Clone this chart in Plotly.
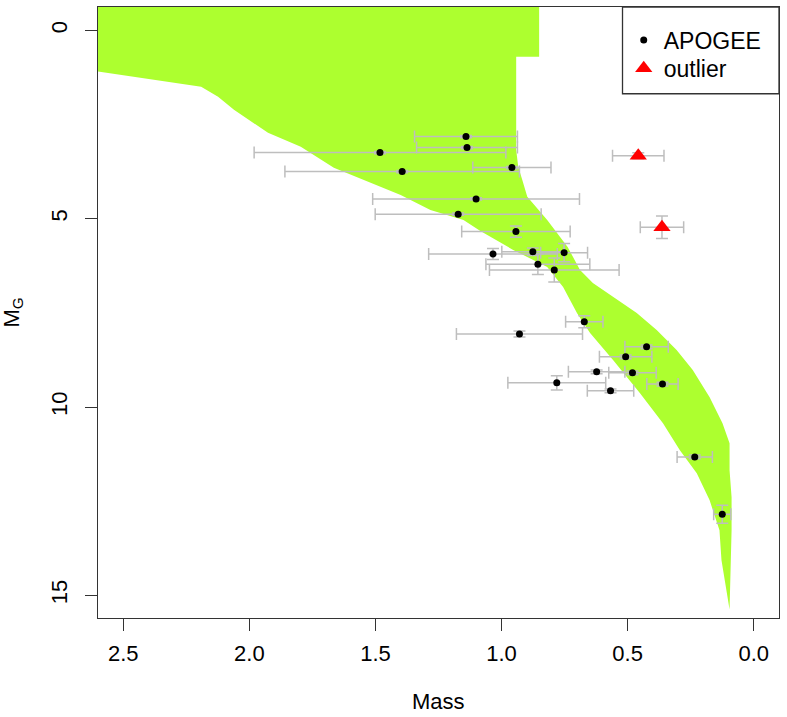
import plotly.graph_objects as go

# isochrone band outline (mass, M_G)
band_mass = [2.70, 2.595, 2.191, 2.124, 2.061, 1.926, 1.796, 1.665, 1.531, 1.400,
             1.282, 1.151, 1.084, 0.954, 0.819, 0.756, 0.701, 0.649, 0.558, 0.451,
             0.360, 0.293, 0.226, 0.175, 0.136, 0.128, 0.096,
             0.088, 0.088, 0.096, 0.096, 0.124, 0.175, 0.242, 0.306, 0.385, 0.464,
             0.558, 0.638, 0.689, 0.738, 0.819, 0.898, 0.918, 0.934, 0.942, 0.942,
             0.851, 0.851, 2.70]
band_mg = [0.99, 1.098, 1.497, 1.762, 2.108, 2.719, 3.091, 3.650, 4.022, 4.368,
           4.766, 5.032, 5.324, 5.829, 6.281, 6.813, 7.504, 8.036, 8.754, 9.631,
           10.429, 11.146, 11.758, 12.475, 13.273, 14.070, 15.373,
           13.273, 12.396, 11.678, 10.960, 10.428, 9.737, 9.019, 8.488, 7.956, 7.504,
           7.079, 6.706, 6.361, 5.750, 5.032, 4.420, 3.969, 3.623, 3.171, 0.699,
           0.699, -1.5, -1.5]

# APOGEE stars
apogee_mass = [1.141, 1.137, 1.482, 1.394, 0.959, 1.101, 1.172, 0.943, 1.034, 0.876,
               0.752, 0.856, 0.791, 0.672, 0.929, 0.425, 0.508, 0.623, 0.481, 0.568,
               0.362, 0.781, 0.234, 0.125]
apogee_mg = [2.818, 3.110, 3.243, 3.748, 3.642, 4.474, 4.880, 5.343, 5.936, 5.875,
             5.901, 6.210, 6.361, 7.735, 8.062, 8.400, 8.666, 9.064, 9.091, 9.569,
             9.391, 9.357, 11.324, 12.847]
apogee_mass_err = [0.204, 0.200, 0.499, 0.465, 0.155, 0.410, 0.329, 0.215, 0.255, 0.123,
                   0.093, 0.206, 0.257, 0.074, 0.250, 0.086, 0.104, 0.112, 0.094, 0.092,
                   0.062, 0.194, 0.070, 0.034]
apogee_mg_err = [0.03, 0.03, 0.03, 0.03, 0.03, 0.03, 0.03, 0.15, 0.146, 0.10,
                 0.24, 0.27, 0.32, 0.16, 0.08, 0.05, 0.05, 0.05, 0.05, 0.05,
                 0.05, 0.19, 0.05, 0.24]

# outliers
out_mass = [0.458, 0.364]
out_mg = [3.331, 5.226]
out_mass_err = [0.102, 0.086]
out_mg_err = [0.08, 0.30]

err_col = "#BEBEBE"

fig = go.Figure()

fig.add_trace(go.Scatter(
    x=band_mass, y=band_mg, mode="lines", fill="toself",
    fillcolor="#ADFF2F", line=dict(width=0, color="#ADFF2F"),
    showlegend=False, hoverinfo="skip"))

fig.add_trace(go.Scatter(
    x=apogee_mass, y=apogee_mg, mode="markers", name="APOGEE", legend="legend",
    marker=dict(color="black", size=7, symbol="circle"),
    error_x=dict(type="data", array=apogee_mass_err, color=err_col, thickness=1.5, width=6),
    error_y=dict(type="data", array=apogee_mg_err, color=err_col, thickness=1.5, width=6)))

fig.add_trace(go.Scatter(
    x=out_mass, y=out_mg, mode="markers", name="outlier", legend="legend2",
    marker=dict(color="red", size=15, symbol="triangle-up"),
    error_x=dict(type="data", array=out_mass_err, color=err_col, thickness=1.5, width=6),
    error_y=dict(type="data", array=out_mg_err, color=err_col, thickness=1.5, width=6)))

axis_style = dict(showline=True, mirror=True, linecolor="#333333", linewidth=1.3,
                  ticks="outside", ticklen=12, tickwidth=1.3, tickcolor="#333333",
                  showgrid=False, zeroline=False, automargin=False,
                  tickfont=dict(size=22, color="black"))

fig.update_xaxes(range=[2.6, -0.1], tickvals=[2.5, 2.0, 1.5, 1.0, 0.5, 0.0],
                 ticktext=["2.5", "2.0", "1.5", "1.0", "0.5", "0.0"],
                 ticklabelstandoff=3, **axis_style)
fig.update_yaxes(range=[15.6, -0.62], tickvals=[0, 5, 10, 15], tickangle=-90,
                 ticklabelstandoff=9, **axis_style)

leg_style = dict(xanchor="left", yanchor="top", bgcolor="rgba(0,0,0,0)",
                 borderwidth=0, font=dict(size=23))

fig.update_layout(
    width=787, height=717,
    margin=dict(l=98, r=8, t=7, b=99),
    plot_bgcolor="white", paper_bgcolor="white",
    font=dict(family="Liberation Sans, Arial, sans-serif", size=22, color="black"),
    legend=dict(x=0.772, y=0.981, **leg_style),
    legend2=dict(x=0.772, y=0.935, **leg_style),
    shapes=[dict(type="rect", xref="paper", yref="paper",
                 x0=0.7702, x1=1.0, y0=0.858, y1=1.0,
                 line=dict(color="#333333", width=1.3), fillcolor="rgba(0,0,0,0)")],
    annotations=[
        dict(text="Mass", xref="paper", yref="paper", x=0.5, y=0,
             yshift=-83, showarrow=False, yanchor="middle", font=dict(size=22)),
        dict(text="M<sub>G</sub>", xref="paper", yref="paper", x=0, y=0.5,
             xshift=-86, showarrow=False, textangle=-90, xanchor="center",
             font=dict(size=22)),
    ],
)

# drop the browser's default 8px body margin so the figure sits at the page corner
fig.write_html("out.html", config={"displayModeBar": False},
               post_script="document.body.style.margin='0px';")
